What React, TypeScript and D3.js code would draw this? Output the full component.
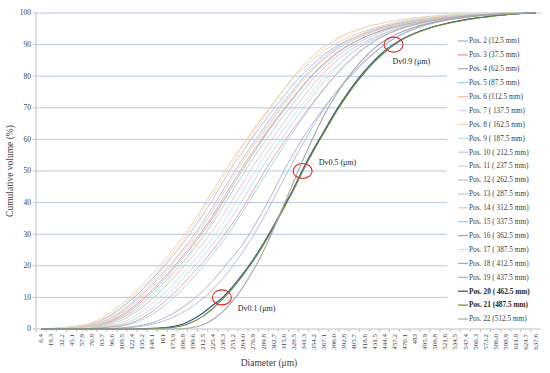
import * as d3 from "d3";

const diameters = [
  "6.4", "19.3", "32.2", "45.1", "57.9", "70.8", "83.7", "96.6", "109.5", "122.4",
  "135.2", "148.1", "161", "173.9", "186.8", "199.6", "212.5", "225.4", "238.3", "251.2",
  "264.0", "276.9", "289.8", "302.7", "315.6", "328.5", "341.3", "354.2", "367.1", "380.0",
  "392.8", "405.7", "418.6", "431.5", "444.4", "457.2", "470.1", "483", "495.9", "508.8",
  "521.6", "534.5", "547.4", "560.3", "573.2", "586.0", "598.9", "611.8", "624.7", "637.6",
];

const yTicks = [0, 10, 20, 30, 40, 50, 60, 70, 80, 90, 100];

const seriesNames = [
  "Pos. 2 (12.5 mm)", "Pos. 3 (37.5 mm)", "Pos. 4 (62.5 mm)", "Pos. 5 (87.5 mm)",
  "Pos. 6 (112.5 mm)", "Pos. 7 ( 137.5 mm)", "Pos. 8 ( 162.5 mm)", "Pos. 9 ( 187.5 mm)",
  "Pos. 10 ( 212.5 mm)", "Pos. 11 ( 237.5 mm)", "Pos. 12 ( 262.5 mm)", "Pos. 13 ( 287.5 mm)",
  "Pos. 14 ( 312.5 mm)", "Pos. 15 ( 337.5 mm)", "Pos. 16 ( 362.5 mm)", "Pos. 17 ( 387.5 mm)",
  "Pos. 18 ( 412.5 mm)", "Pos. 19 ( 437.5 mm)", "Pos. 20 ( 462.5 mm)", "Pos. 21 (487.5 mm)",
  "Pos. 22 (512.5 mm)",
];

const seriesColors = [
  "#8eb4e3", "#d99694", "#b3a2c7", "#93cddd", "#f9c29a", "#c6d9f1", "#fcd5b5",
  "#b7dee8", "#ccc1da", "#ddd9c3", "#e6b9b8", "#b9cde5", "#f7c39e", "#8fcfe0",
  "#a99bbd", "#d7e4bd", "#d99694", "#95b3d7", "#254f8a", "#6b8a2c", "#a6a6a6",
];

const boldSeries = ["Pos. 20 ( 462.5 mm)", "Pos. 21 (487.5 mm)"];

const pos2 = [0,0.1,0.3,0.6,0.9,1.6,2.8,4.5,6.8,9.4,12.4,15.8,19.3,23,27,31.3,36,41,46.5,51.8,56.3,60.8,65.3,69.5,73.5,77.5,81,84,86.8,89,90.8,92.3,93.7,94.8,95.7,96.5,97.1,97.7,98.1,98.5,98.9,99.2,99.4,99.6,99.8,99.9,100,100,100,100];
const pos3 = [0,0,0.1,0.2,0.5,0.8,1.4,2.4,4,6.2,8.8,11.8,15,18.6,22.3,26.2,30.5,35.2,40.2,45.5,50.6,55.5,60.2,64.8,69,73,77,80.6,83.7,86.5,88.8,90.7,92.3,93.6,94.7,95.6,96.4,97,97.6,98.1,98.5,98.9,99.2,99.4,99.6,99.8,99.9,100,100,100];
const pos4 = [0,0,0.1,0.3,0.55,0.9,1.55,2.75,4.5,6.75,9.4,12.4,15.75,19.25,23,27,31.25,36,41.1,46.4,51.5,56.25,60.75,65.25,69.5,73.5,77.5,81,84,86.75,89,90.8,92.3,93.65,94.8,95.7,96.45,97.1,97.65,98.1,98.5,98.85,99.15,99.4,99.6,99.75,99.85,99.95,100,100];
const pos5 = [0,0,0,0.2,0.4,0.7,1.1,2,3.5,5.5,8,10.8,14,17.5,21,25,29,33.5,38.5,43.8,49,54,58.5,63,67.5,71.5,75.5,79.5,82.5,85.5,88,90,91.6,93,94.3,95.3,96.1,96.8,97.4,97.9,98.3,98.7,99,99.3,99.5,99.7,99.8,99.9,100,100];
const pos6 = [0,0.2,0.4,0.7,1.1,2,3.5,5.5,8,10.8,14,17.5,21,25,29,33.5,38.5,43.8,49,54,58.5,63,67.5,71.5,75.5,79.5,82.5,85.5,88,90,91.6,93,94.3,95.3,96.1,96.8,97.4,97.9,98.3,98.7,99,99.3,99.5,99.7,99.8,99.9,100,100,100,100];
const pos7 = [0,0,0.2,0.4,0.7,1.1,2,3.5,5.5,8,10.8,14,17.5,21,25,29,33.5,38.5,43.8,49,54,58.5,63,67.5,71.5,75.5,79.5,82.5,85.5,88,90,91.6,93,94.3,95.3,96.1,96.8,97.4,97.9,98.3,98.7,99,99.3,99.5,99.7,99.8,99.9,100,100,100];
const pos8 = [0,0,0.2,0.4,0.8,1.4,2.5,4,6,8.5,11.5,15,18.8,22.8,27,31.5,36.2,41.2,46.5,51.5,56.5,61.5,66.5,71,75.5,79.8,83.5,86.8,89.5,91.5,93.2,94.5,95.5,96.3,97,97.6,98.1,98.5,98.8,99.1,99.3,99.5,99.7,99.8,99.9,100,100,100,100,100];
const pos9 = [0,0,0,0,0.2,0.4,0.7,1.1,2,3.5,5.5,8,10.8,14,17.5,21,25,29,33.5,38.5,43.8,49,54,58.5,63,67.5,71.5,75.5,79.5,82.5,85.5,88,90,91.6,93,94.3,95.3,96.1,96.8,97.4,97.9,98.3,98.7,99,99.3,99.5,99.7,99.8,99.9,100];
const pos10 = [0,0.1,0.2,0.4,0.8,1.3,2.2,3.6,5.6,8.2,11,14.2,17.6,21.2,25,29.2,33.8,38.8,44,49.2,54.2,59,63.5,68,72,76,79.8,83,86,88.5,90.5,92,93.3,94.5,95.4,96.2,96.9,97.5,98,98.4,98.8,99.1,99.4,99.6,99.8,99.9,100,100,100,100];
const pos11 = [0,0.1,0.3,0.6,1,1.7,3,4.8,7.2,10,13,16.5,20,24,28,32.5,37.5,42.5,48,53,57.8,62.5,67,71.5,75.8,80,83.5,86.5,89,91,92.8,94.2,95.3,96.2,96.9,97.5,98,98.4,98.8,99.1,99.3,99.5,99.7,99.8,99.9,100,100,100,100,100];
const pos12 = [0,0,0,0.1,0.3,0.55,0.9,1.55,2.75,4.5,6.75,9.4,12.4,15.75,19.25,23,27,31.25,36,41.15,46.4,51.5,56.25,60.75,65.25,69.5,73.5,77.5,81,84,86.75,89,90.8,92.3,93.65,94.8,95.7,96.45,97.1,97.65,98.1,98.5,98.85,99.15,99.4,99.6,99.75,99.85,99.95,100];
const pos13 = [0,0,0,0,0.1,0.3,0.5,0.9,1.5,2.7,4.4,6.6,9.3,12.3,15.7,19.2,23,27,31.2,36,41,46.4,51.6,56.5,61,65.5,70,74.2,78.2,81.8,85,87.8,90.2,92,93.5,94.8,95.8,96.6,97.3,97.9,98.4,98.8,99.1,99.4,99.6,99.8,99.9,100,100,100];
const pos14 = [0,0,0.1,0.3,0.6,1,1.8,3.1,5,7.4,10.2,13.3,16.8,20.3,24.2,28.2,32.6,37.5,42.8,48,53,57.8,62.3,66.8,71,75,79,82.3,85.2,87.8,89.8,91.5,93,94.2,95.2,96,96.7,97.3,97.8,98.2,98.6,98.9,99.2,99.4,99.6,99.8,99.9,100,100,100];
const pos15 = [0,0,0,0,0,0.1,0.3,0.6,1,1.7,2.9,4.6,6.8,9.5,12.6,16,19.7,23.6,27.8,32.3,37.2,42.3,47.6,52.8,57.8,62.6,67.2,71.6,75.8,79.7,83.2,86.3,89,91.2,93,94.4,95.6,96.5,97.3,97.9,98.4,98.8,99.1,99.4,99.6,99.8,99.9,100,100,100];
const pos16 = [0,0,0,0,0,0,0.1,0.2,0.4,0.7,1.2,2,3.2,4.8,6.8,9.2,12,15.3,19,22.9,27,32,37.5,43.5,49.8,55.5,60.8,65.5,70,74,77.8,81.2,84.4,87.3,89.8,92,93.8,95.2,96.3,97.2,97.9,98.4,98.8,99.1,99.4,99.6,99.8,99.9,100,100];
const pos17 = [0,0,0,0.1,0.3,0.6,1.1,2,3.3,5,7.2,9.8,12.8,16.3,20.2,24.5,29.2,34.3,39.7,45.2,50.8,56.2,61.4,66.3,70.8,75,78.8,82.3,85.3,88,90.3,92.2,93.8,95.1,96.1,96.9,97.6,98.1,98.6,99,99.3,99.5,99.7,99.8,99.9,100,100,100,100,100];
const pos18 = [0,0,0,0,0,0.2,0.4,0.7,1.1,2,3.5,5.5,8,10.8,14,17.5,21,25,29.2,33.6,38.5,43.8,49.2,54.3,59,63.5,67.8,72,76,79.8,83.2,86.2,88.8,91,92.8,94.2,95.4,96.3,97.1,97.7,98.2,98.6,99,99.3,99.5,99.7,99.8,99.9,100,100];
const pos19 = [0,0,0,0,0,0,0,0.1,0.3,0.5,0.9,1.5,2.4,3.6,5.2,7.2,9.6,12.5,16,20,24.5,29.5,35,41,47.2,53.2,59,64.5,69.5,74,78,81.6,84.8,87.6,90,92,93.6,94.9,96,96.9,97.6,98.2,98.7,99.1,99.4,99.6,99.8,99.9,100,100];
const pos20 = [0,0,0,0,0,0,0,0,0,0,0.1,0.2,0.4,0.8,1.5,3,5,7.5,10,13.5,17.5,22,27,32.5,38.5,44.5,51,57,62.5,68,73,77.5,81.5,85,88,90.3,92.2,93.6,94.8,95.8,96.6,97.3,97.9,98.4,98.8,99.2,99.5,99.7,99.9,100];
const pos21 = [0,0,0,0,0,0,0,0,0,0,0,0.1,0.2,0.5,1,2.2,4,6.5,9.5,13,17,21.5,26.5,32,38,44,50.5,56.5,62,67.5,72.5,77,81,84.5,87.5,90,92,93.5,94.7,95.7,96.5,97.2,97.8,98.3,98.7,99.1,99.4,99.7,99.9,100];
const pos22 = [0,0,0,0,0,0,0,0,0,0,0,0,0,0,0.1,0.5,1.3,3,5.5,9,13.3,18.5,24.5,31.5,39,46.5,54,61,67.5,73,78,82.2,85.8,88.8,91.2,93,94.4,95.5,96.4,97.1,97.7,98.2,98.6,99,99.3,99.5,99.7,99.85,99.95,100];

const seriesValues = [
  pos2, pos3, pos4, pos5, pos6, pos7, pos8, pos9, pos10, pos11, pos12,
  pos13, pos14, pos15, pos16, pos17, pos18, pos19, pos20, pos21, pos22,
];

const markers = [
  { label: "Dv0.1 (μm)", cat: "238.3", value: 10 },
  { label: "Dv0.5 (μm)", cat: "341.3", value: 50 },
  { label: "Dv0.9 (μm)", cat: "457.2", value: 90 },
];

const width = 550;
const height = 373;
const marginLeft = 36;
const marginRight = 9;
const marginTop = 13;
const marginBottom = 44;
const font = "'Liberation Serif', 'Times New Roman', serif";

export default function App() {
  const x = d3
    .scaleBand()
    .domain(diameters)
    .range([marginLeft, width - marginRight]);
  const y = d3
    .scaleLinear()
    .domain([0, 100])
    .range([height - marginBottom, marginTop]);
  const cx = (d: string) => (x(d) as number) + x.bandwidth() / 2;

  const line = d3
    .line<number>()
    .x((_, i) => cx(diameters[i]))
    .y((v) => y(v))
    .curve(d3.curveMonotoneX);

  const legendX = 458;
  const legendY = 41;
  const legendStep = 13.9;

  return (
    <svg
      width={width}
      height={height}
      style={{ position: "absolute", left: 0, top: 0, background: "#fff" }}
      fontFamily={font}
    >
      {/* grid */}
      {yTicks.map((t) => (
        <line
          key={"g" + t}
          x1={marginLeft}
          x2={width - marginRight}
          y1={y(t)}
          y2={y(t)}
          stroke={t === 0 ? "#bfbfbf" : "#b4c7e7"}
          strokeWidth={1}
        />
      ))}
      <line x1={marginLeft} x2={marginLeft} y1={y(100)} y2={y(0)} stroke="#bfbfbf" />
      {yTicks.map((t) => (
        <g key={"yt" + t}>
          <line x1={marginLeft - 3} x2={marginLeft} y1={y(t)} y2={y(t)} stroke="#bfbfbf" />
          <text x={marginLeft - 5} y={y(t)} dy="0.32em" textAnchor="end" fontSize={7.5} fill="#404040">
            {t}
          </text>
        </g>
      ))}
      {diameters.map((d) => (
        <line
          key={"xt" + d}
          x1={x(d) as number}
          x2={x(d) as number}
          y1={y(0)}
          y2={y(0) + 3}
          stroke="#bfbfbf"
        />
      ))}
      {diameters.map((d) => (
        <text
          key={"xl" + d}
          transform={`translate(${cx(d)},${y(0) + 5}) rotate(-90)`}
          textAnchor="end"
          dy="0.32em"
          fontSize={7}
          fill="#404040"
        >
          {d}
        </text>
      ))}
      <text
        transform={`translate(13,${(y(0) + y(100)) / 2}) rotate(-90)`}
        textAnchor="middle"
        fontSize={9.5}
        fill="#404040"
      >
        Cumulative volume (%)
      </text>
      <text x={269} y={366} textAnchor="middle" fontSize={9.5} fill="#404040">
        Diameter (μm)
      </text>

      {/* legend background */}
      <rect x={447} y={32} width={width - marginRight - 447} height={292} fill="#fff" />

      {/* series */}
      {seriesValues.map((vals, k) => (
        <path
          key={seriesNames[k]}
          d={line(vals) ?? ""}
          fill="none"
          stroke={seriesColors[k]}
          strokeWidth={k >= 18 ? 1.1 : 0.8}
        />
      ))}

      {/* legend */}
      {seriesNames.map((name, k) => {
        const ly = legendY + k * legendStep;
        const bold = boldSeries.includes(name);
        return (
          <g key={"lg" + name}>
            <line x1={legendX} x2={legendX + 10} y1={ly} y2={ly} stroke={seriesColors[k]} strokeWidth={1.2} />
            <text
              x={legendX + 11}
              y={ly}
              dy="0.32em"
              fontSize={7.3}
              fontWeight={bold ? "bold" : "normal"}
              fill={bold ? "#262626" : "#404040"}
            >
              {name}
            </text>
          </g>
        );
      })}

      {/* Dv markers */}
      {markers.map((m) => (
        <ellipse
          key={"e" + m.label}
          cx={cx(m.cat) - 1}
          cy={y(m.value)}
          rx={9.5}
          ry={7.5}
          fill="none"
          stroke="#e8292a"
          strokeWidth={1.1}
        />
      ))}
      <text x={cx("238.3") + 15} y={y(10) + 14} fontSize={8} fill="#262626">Dv0.1 (μm)</text>
      <text x={cx("341.3") + 15} y={y(50) - 6} fontSize={8} fill="#262626">Dv0.5 (μm)</text>
      <text x={cx("457.2") - 2} y={y(90) + 19} fontSize={8} fill="#262626">Dv0.9 (μm)</text>
    </svg>
  );
}
